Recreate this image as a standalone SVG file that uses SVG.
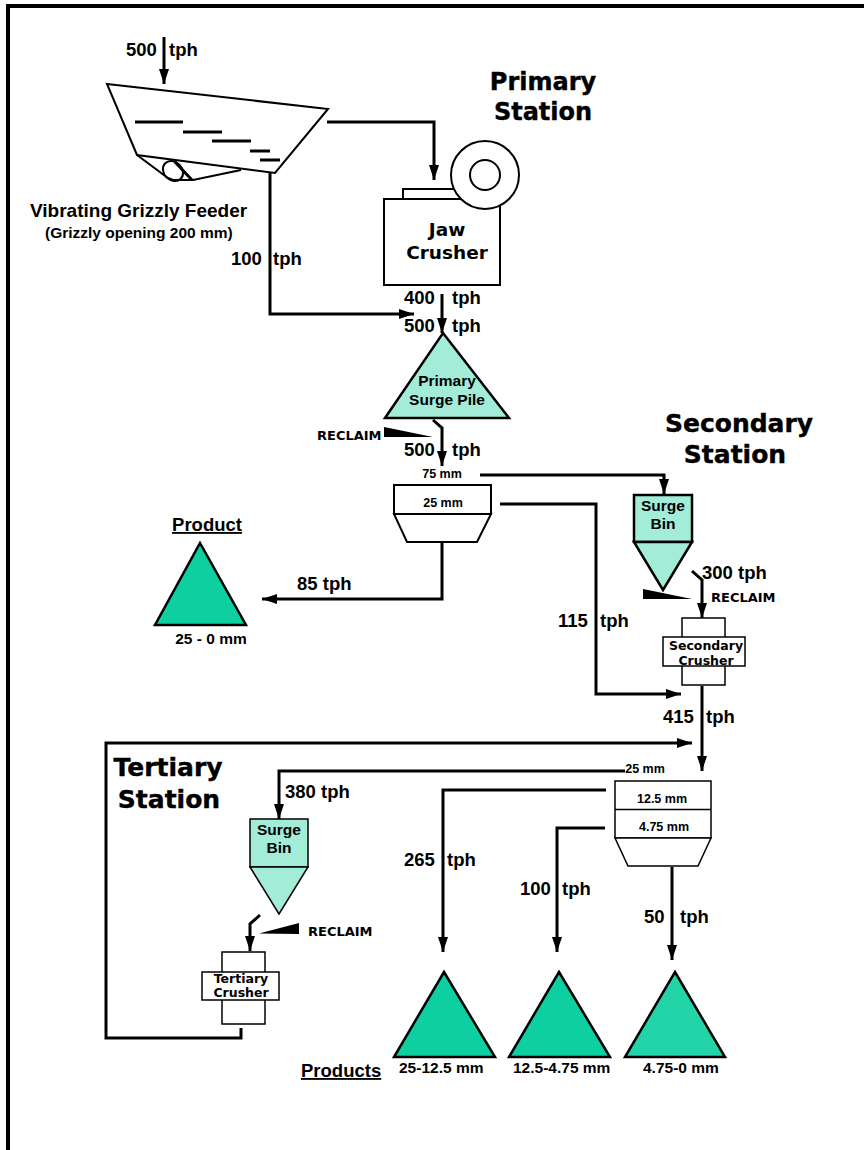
<svg xmlns="http://www.w3.org/2000/svg" width="864" height="1150" viewBox="0 0 864 1150">
<defs>
<marker id="arr" markerUnits="userSpaceOnUse" markerWidth="15" markerHeight="10" refX="15" refY="5" viewBox="0 0 15 10" orient="auto"><path d="M0 0L15 5L0 10z" fill="#000"/></marker>
</defs>
<style>
text{font-family:"Liberation Sans",Arial,sans-serif;font-weight:700;fill:#000}
.a{font-size:18.500px}.m{font-size:15.500px}.t{font-size:12.500px}.p{font-size:15.500px}
.w{font-family:"DejaVu Sans",sans-serif;font-size:25px;stroke:#000;stroke-width:.4}
.w2{font-size:24px}
.r{font-family:"DejaVu Sans",sans-serif;font-size:13px}
.c{font-family:"DejaVu Sans",sans-serif;font-size:12.500px}
.j{font-family:"DejaVu Sans",sans-serif;font-size:18.500px}
.mid{text-anchor:middle}
.o{fill:none;stroke:#000;stroke-width:2}
.f{fill:#fff;stroke:#000;stroke-width:2}
.th{fill:#fff;stroke:#000;stroke-width:1.500}
.l{fill:#a3ecd8;stroke:#000;stroke-width:2.500}
.l2{fill:#a3ecd8;stroke:#000;stroke-width:1.500}
.d{fill:#0dcf9f;stroke:#000;stroke-width:2.500}
.k{fill:none;stroke:#000;stroke-width:3;marker-end:url(#arr)}
.n{fill:none;stroke:#000;stroke-width:3}
</style>
<path id="frame" d="M8 1150V6H864" fill="none" stroke="#000" stroke-width="4"/>
<g id="connectors">
<path class="k" d="M164 37V84"/>
<path class="k" d="M327 122H434V180"/>
<path class="k" d="M270 172V314H414"/>
<path class="k" d="M442 294V333"/>
<path class="k" d="M433 420L442 428V466"/>
<path class="k" d="M480 475H664V494"/>
<path class="k" d="M500 504H596V694H681"/>
<path class="k" d="M442 543V599H262"/>
<path class="k" d="M692 571L702 580V618"/>
<path class="k" d="M702 686V771"/>
<path class="k" d="M625 771H279V819"/>
<path class="k" d="M606 790H443V952"/>
<path class="k" d="M605 828H557V952"/>
<path class="k" d="M672 867V960"/>
<path class="k" d="M241 1028V1038H106V743H692"/>
<path class="k" d="M260 915L250 924V951"/>
</g>
<g id="feeder">
<path class="o" d="M107 84L328 109L275 173L137 155Z"/>
<path class="n" d="M135 122H183M183 132H222M212 141H251M250 151H270M260 160H280"/>
<path class="o" d="M137 155L168 178L173 180H193L241 170"/>
<ellipse class="o" cx="173" cy="171" rx="11" ry="9" transform="rotate(45 173 171)"/>
<path class="n" d="M175 162L192 180"/>
</g>
<g id="jaw">
<path class="f" d="M403 199V189H470V199"/>
<rect class="f" x="384" y="199" width="116" height="86"/>
<circle class="f" cx="485" cy="175" r="34"/>
<circle class="f" cx="485" cy="175" r="15"/>
<text class="j mid" x="447" y="236">Jaw</text>
<text class="j mid" x="447" y="259">Crusher</text>
</g>
<g id="pile1">
<path class="l" d="M443 333L509 418H385Z"/>
<text class="m mid" x="447" y="386">Primary</text>
<text class="m mid" x="447" y="405">Surge Pile</text>
</g>
<g id="screen1">
<rect class="f" x="394" y="485" width="97" height="29"/>
<path class="f" d="M394 514H491L477 542H407Z"/>
<text class="t mid" x="443" y="507">25 mm</text>
</g>
<g id="bin1">
<rect class="l" x="634" y="495" width="58" height="47"/>
<path class="l" d="M634 542H692L663 590Z"/>
<text class="mid m" x="663" y="511">Surge</text>
<text class="mid m" x="663" y="529">Bin</text>
</g>
<g id="crusher2">
<rect class="th" x="682" y="618" width="43" height="67"/>
<rect class="th" x="663" y="637" width="82" height="29"/>
<text class="c mid" x="706" y="650">Secondary</text>
<text class="c mid" x="706" y="665">Crusher</text>
</g>
<g id="screen2">
<rect class="th" x="615" y="781" width="96" height="57"/>
<path class="th" d="M615 838H711L698 866H628Z"/>
<path class="th" d="M615 809.500H711"/>
<text class="t mid" x="662" y="803">12.5 mm</text>
<text class="t mid" x="664" y="831">4.75 mm</text>
</g>
<g id="bin2">
<rect class="l2" x="250" y="819" width="58" height="48"/>
<path class="l2" d="M250 867H308L279 914Z"/>
<text class="mid m" x="279" y="835">Surge</text>
<text class="mid m" x="279" y="853">Bin</text>
</g>
<g id="crusher3">
<rect class="th" x="222" y="952" width="43" height="72"/>
<rect class="th" x="202" y="972" width="77" height="28"/>
<text class="c mid" x="241" y="983">Tertiary</text>
<text class="c mid" x="241" y="997">Crusher</text>
</g>
<path id="wedge1" d="M384 427V437H433Z"/>
<path id="wedge2" d="M643 589V599H692Z"/>
<path id="wedge3" d="M259 933.500L299 923V934Z"/>
<path id="prod0" class="d" d="M200 543L246 625H155Z"/>
<path id="prod1" class="d" d="M444 972L495 1057H394Z"/>
<path id="prod2" class="d" d="M559 972L610 1057H509Z"/>
<path id="prod3" class="d" style="fill:#23d4a8" d="M675 972L725 1057H625Z"/>
<g id="labels">
<text class="a" x="126" y="56">500</text><text class="a" x="169" y="56">tph</text>
<text x="30" y="217" style="font-size:19px">Vibrating Grizzly Feeder</text>
<text x="45" y="238" style="font-size:15.500px">(Grizzly opening 200 mm)</text>
<text class="a" x="231" y="265">100</text><text class="a" x="273" y="265">tph</text>
<text class="a" x="404" y="304">400</text><text class="a" x="452" y="304">tph</text>
<text class="a" x="404" y="332">500</text><text class="a" x="452" y="332">tph</text>
<text class="a" x="404" y="456">500</text><text class="a" x="452" y="456">tph</text>
<text class="r" x="317" y="440">RECLAIM</text>
<text class="t mid" x="442" y="478">75 mm</text>
<text class="a mid" x="207" y="531" style="text-decoration:underline">Product</text>
<text class="a" x="297" y="590">85 tph</text>
<text class="p mid" x="211" y="644">25 - 0 mm</text>
<text class="a" x="702" y="579">300 tph</text>
<text class="r" x="711" y="602">RECLAIM</text>
<text class="a" x="558" y="627">115</text><text class="a" x="600" y="627">tph</text>
<text class="a" x="663" y="723">415</text><text class="a" x="706" y="723">tph</text>
<text class="t mid" x="645" y="773">25 mm</text>
<text class="a" x="285" y="798">380 tph</text>
<text class="a" x="404" y="866">265</text><text class="a" x="447" y="866">tph</text>
<text class="a" x="520" y="895">100</text><text class="a" x="562" y="895">tph</text>
<text class="a" x="644" y="923">50</text><text class="a" x="680" y="923">tph</text>
<text class="r" x="308" y="936">RECLAIM</text>
<text class="a" x="301" y="1077" style="text-decoration:underline">Products</text>
<text class="p" x="399" y="1073">25-12.5 mm</text>
<text class="p" x="513" y="1073">12.5-4.75 mm</text>
<text class="p" x="643" y="1073">4.75-0 mm</text>
<text class="w w2 mid" x="543" y="90">Primary</text>
<text class="w w2 mid" x="543" y="120">Station</text>
<text class="w mid" x="739" y="432">Secondary</text>
<text class="w mid" x="735" y="463">Station</text>
<text class="w mid" x="168" y="776">Tertiary</text>
<text class="w mid" x="169" y="808">Station</text>
</g>
</svg>
